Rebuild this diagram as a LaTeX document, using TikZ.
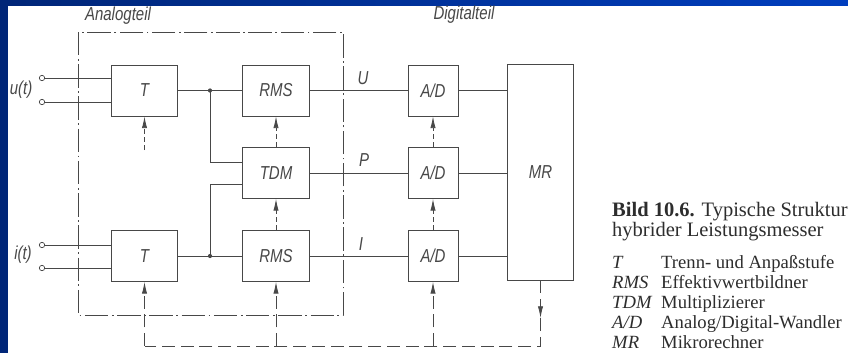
\documentclass[tikz,border=0pt]{standalone}
\usepackage{fontspec}
\setmainfont{Liberation Serif}
\newfontfamily\schfont[FakeStretch=0.8]{Liberation Sans Italic}
\usetikzlibrary{arrows.meta}
\definecolor{ink}{RGB}{72,72,72}
\definecolor{capink}{RGB}{45,45,45}
\definecolor{navy}{RGB}{0,38,120}
\definecolor{topblue}{RGB}{0,62,190}
\newcommand{\abbr}[1]{\makebox[1.47cm][l]{\textit{#1}}}

\begin{document}
\begin{tikzpicture}[x=0.03cm,y=-0.03cm,
  block/.style={draw=ink, line width=0.7pt, minimum width=2.0cm, minimum height=1.53cm, inner sep=0pt, font=\schfont\fontsize{16pt}{19pt}\selectfont, text=ink},
  adblock/.style={block, minimum width=1.5cm},
  lbl/.style={font=\schfont\fontsize{16pt}{19pt}\selectfont, text=ink, inner sep=0pt},
  term/.style={circle, draw=ink, line width=0.6pt, inner sep=0pt, minimum size=4.6pt, fill=white},
  wire/.style={draw=ink, line width=0.7pt},
  ctrl/.style={wire, dash pattern=on 4pt off 3pt, -{Latex[length=10pt,width=4.5pt]}},
  bus/.style={wire, dash pattern=on 11pt off 5pt},
  busarrow/.style={ctrl, dash pattern=on 11pt off 5pt},
  frame/.style={wire, line width=0.6pt, dash pattern=on 20pt off 3pt on 1.5pt off 3pt},
  captext/.style={font=\fontsize{17.5pt}{21pt}\selectfont, text=capink, inner sep=0pt, anchor=base west},
  legtext/.style={font=\fontsize{15.9pt}{19pt}\selectfont, text=capink, inner sep=0pt, anchor=base west}]
\useasboundingbox (0,0) rectangle (848,353);
\fill[navy] (0,0) rectangle (848,353);
\fill[white] (8,5) rectangle (848,353);
\shade[left color=navy, right color=topblue] (8,0) rectangle (848,5);

% Analogteil
\node[lbl] (ana) at (118,16) {Analogteil};
\draw[frame] (78,32) rectangle (343,315);
\node[term] (ua) at (42,78) {};
\node[term] (ub) at (42,102) {};
\node[term] (ia) at (42,245) {};
\node[term] (ib) at (42,268) {};
\node[lbl] (ulab) at (21,90) {u(t)};
\node[lbl] (ilab) at (23,255) {i(t)};
\node[block] (Tu) at (144.5,90.5) {T};
\node[block] (Ti) at (144.5,256) {T};
\node[block] (RMSu) at (276,90.5) {RMS};
\node[block] (TDM) at (276,173) {TDM};
\node[block] (RMSi) at (276,256) {RMS};

% Digitalteil
\node[lbl] (dig) at (464,15) {Digitalteil};
\node[adblock] (ADu) at (433,90.5) {A/D};
\node[adblock] (ADp) at (433,173) {A/D};
\node[adblock] (ADi) at (433,256) {A/D};
\node[block, minimum height=6.48cm] (MR) at (540.5,172) {MR};
\node[lbl] (Ulab) at (363,78) {U};
\node[lbl] (Plab) at (364,160) {P};
\node[lbl] (Ilab) at (361,244) {I};

% Signalwege
\draw[wire] (ua) -- (ua -| Tu.west);
\draw[wire] (ub) -- (ub -| Tu.west);
\draw[wire] (ia) -- (ia -| Ti.west);
\draw[wire] (ib) -- (ib -| Ti.west);
\coordinate (ju) at (210,90.5);
\coordinate (ji) at (210,256);
\draw[wire] (Tu) -- (RMSu);
\draw[wire] (Ti) -- (RMSi);
\draw[wire] (ju) |- ([yshift=0.33cm]TDM.west);
\draw[wire] (ji) |- ([yshift=-0.33cm]TDM.west);
\fill[ink] (ju) circle (1.8pt);
\fill[ink] (ji) circle (1.8pt);
\draw[wire] (RMSu) -- (ADu);
\draw[wire] (TDM) -- (ADp);
\draw[wire] (RMSi) -- (ADi);
\draw[wire] (ADu) -- (ADu -| MR.west);
\draw[wire] (ADp) -- (ADp -| MR.west);
\draw[wire] (ADi) -- (ADi -| MR.west);

% Steuerung
\coordinate (tstub) at (144.5,150);
\coordinate (busT) at (144.5,346);
\coordinate (busR) at (276,346);
\coordinate (busA) at (433,346);
\coordinate (mrtip) at (540.5,318);
\coordinate (mrturn) at (540.5,346);
\draw[ctrl] (tstub) -- (Tu);
\draw[ctrl] (TDM) -- (RMSu);
\draw[ctrl] (RMSi) -- (TDM);
\draw[ctrl] (ADp) -- (ADu);
\draw[ctrl] (ADi) -- (ADp);
\draw[busarrow] (MR.south) -- (mrtip);
\draw[bus] (mrtip) -- (mrturn) -- (busT);
\draw[busarrow] (busT) -- (Ti);
\draw[busarrow] (busR) -- (RMSi);
\draw[busarrow] (busA) -- (ADi);

% Bildunterschrift
\node[captext] (cap1) at (612,216) {\textbf{Bild 10.6.} Typische Struktur};
\node[captext] (cap2) at (612,236) {hybrider Leistungsmesser};
\node[legtext] (legT) at (612,268) {\abbr{T}Trenn- und Anpaßstufe};
\node[legtext] (legR) at (612,288) {\abbr{RMS}Effektivwertbildner};
\node[legtext] (legM) at (612,308) {\abbr{TDM}Multiplizierer};
\node[legtext] (legA) at (612,328) {\abbr{A/D}Analog/Digital-Wandler};
\node[legtext] (legC) at (612,348) {\abbr{MR}Mikrorechner};
\end{tikzpicture}
\end{document}
